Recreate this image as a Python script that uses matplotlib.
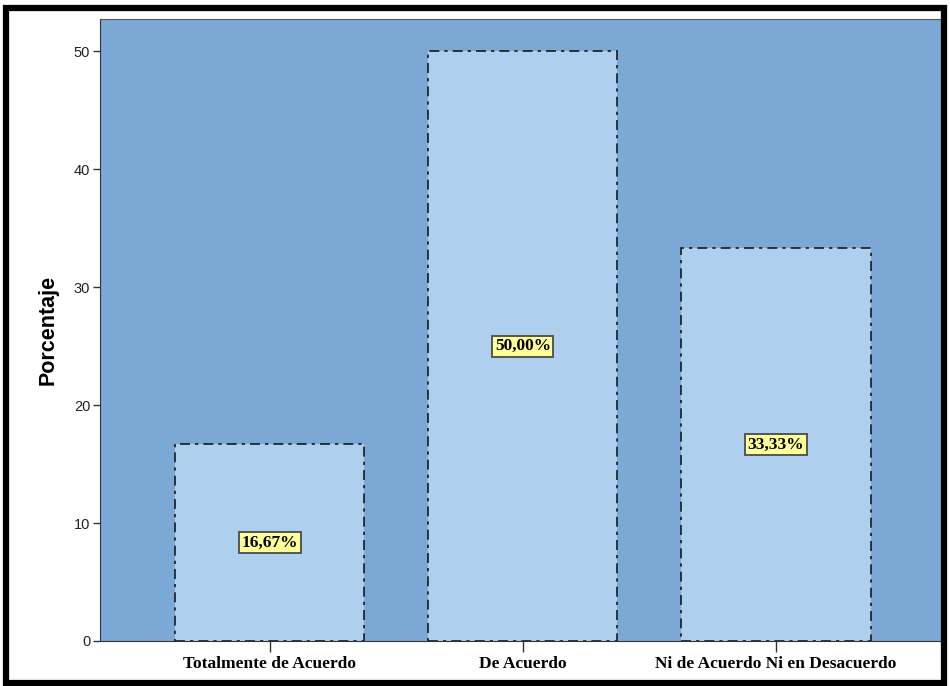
import matplotlib
matplotlib.use("Agg")
import matplotlib.pyplot as plt
from matplotlib.patches import Rectangle

# Datos del gráfico
categorias = ["Totalmente de Acuerdo", "De Acuerdo", "Ni de Acuerdo Ni en Desacuerdo"]
porcentajes = [16.67, 50.00, 33.33]
etiquetas = ["16,67%", "50,00%", "33,33%"]
ticks_y = [0, 10, 20, 30, 40, 50]

fig = plt.figure(figsize=(9.5, 6.86), dpi=100)
fig.patch.set_facecolor("white")

# Marco negro alrededor de la figura
fig.patches.append(Rectangle((0.006, 0.004), 0.988, 0.985, transform=fig.transFigure,
                             fill=False, edgecolor="black", linewidth=4.5))

ax = fig.add_axes([0.1053, 0.0656, 0.8874, 0.906])
ax.set_facecolor("#7ba8d5")

x = list(range(len(categorias)))
barras = ax.bar(x, porcentajes, width=0.747, color="#aed0ee", edgecolor="#1a1a1a",
                linewidth=1.2, linestyle=(0, (6, 3, 2, 3)), zorder=2)

# Etiquetas de valor en el centro de cada barra
for xi, v, txt in zip(x, porcentajes, etiquetas):
    ax.text(xi, v / 2, txt, ha="center", va="center", fontsize=12.5, fontweight="bold",
            family="Liberation Serif", color="black", zorder=3,
            bbox=dict(boxstyle="square,pad=0.15", facecolor="#ffff99", edgecolor="#555555",
                      linewidth=1.4))

ax.set_xlim(-0.67, 2.66)
ax.set_ylim(0, 52.7)
ax.set_yticks(ticks_y)
ax.set_yticklabels([str(t) for t in ticks_y], fontsize=10.5, color="#222222",
                   family="Liberation Sans")
ax.set_xticks(x)
ax.set_xticklabels(categorias, fontsize=12.5, fontweight="bold", family="Liberation Serif")
ax.tick_params(axis="y", length=5, width=1, color="#333333", pad=2)
ax.tick_params(axis="x", length=8, width=1, color="#333333", pad=3)
ax.set_ylabel("Porcentaje", fontsize=15.5, fontweight="bold", family="Liberation Sans",
              labelpad=11)

ax.spines["top"].set_color("#555555")
ax.spines["left"].set_color("#333333")
ax.spines["bottom"].set_color("#333333")
ax.spines["right"].set_visible(False)

plt.savefig("out.png", dpi=100)
